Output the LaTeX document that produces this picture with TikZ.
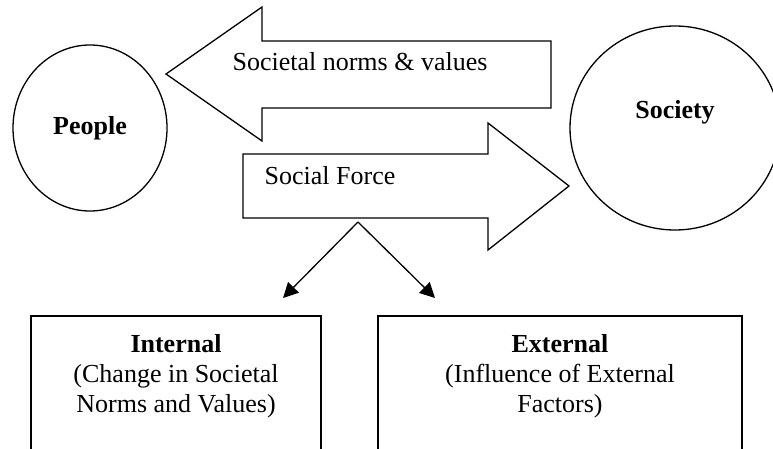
\documentclass[tikz,border=0pt]{standalone}
\usepackage{fontspec}
\setmainfont{Liberation Serif}
\usetikzlibrary{arrows.meta,shapes.geometric}
\begin{document}
\begin{tikzpicture}[x=1pt,y=-1pt,
  outline/.style={draw=black, line width=1.3pt, line join=miter},
  txt/.style={font=\fontsize{26}{30}\selectfont, inner sep=0pt},
  bold/.style={font=\fontsize{26}{30}\selectfont\bfseries, inner sep=0pt},
  blob/.style={outline, ellipse, inner sep=0pt, font=\fontsize{26}{30}\selectfont\bfseries},
  branch/.style={line width=1.3pt, -{Triangle[length=15pt,width=15pt]}}]
\useasboundingbox (0,0) rectangle (773,449);
\clip (0,0) rectangle (773,449);

% the two actors
\node[blob, minimum width=154pt, minimum height=166pt] (people) at (90,128) {People};
\node[blob, minimum width=210pt, minimum height=204pt] (society) at (675,128) {};
\node[bold, anchor=base] (societylabel) at (675,119) {Society};

% norms and values flowing from society back to people
\draw[outline] (166,74) -- (262,7) -- (262,41) -- (551,41) -- (551,108)
  -- (262,108) -- (262,141) -- cycle;
\node[txt, anchor=base] (norms) at (360,71) {Societal norms \& values};

% the social force pushing from people towards society
\draw[outline] (243,154) -- (488,154) -- (488,123) -- (569,186) -- (488,250)
  -- (488,218) -- (243,218) -- cycle;
\node[txt, anchor=base] (force) at (330,185) {Social Force};

% split of the social force
\coordinate (fork) at (358,222);
\coordinate (endL) at (283,298);
\coordinate (endR) at (435,298);
\draw[branch] (fork) -- (endL);
\draw[branch] (fork) -- (endR);

% the two kinds of force (base anchor of a two-line node = last baseline)
\draw[outline] (31,470) -- (31,316) -- (321,316) -- (321,470);
\draw[outline] (378,470) -- (378,316) -- (742,316) -- (742,470);
\node[bold, anchor=base] (internal) at (176,352) {Internal};
\node[txt, anchor=base, align=center] (internaltext) at (176,412)
  {(Change in Societal\\Norms and Values)};
\node[bold, anchor=base] (external) at (560,352) {External};
\node[txt, anchor=base, align=center] (externaltext) at (560,412)
  {(Influence of External\\Factors)};
\end{tikzpicture}
\end{document}
